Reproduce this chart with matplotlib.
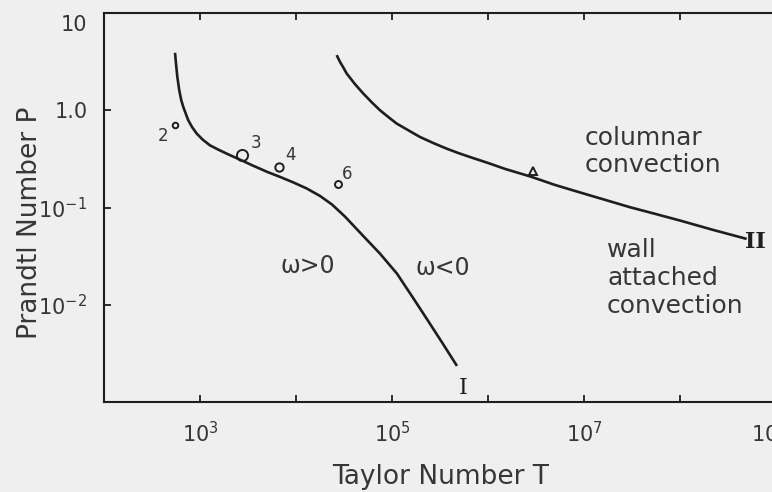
import numpy as np
import matplotlib
matplotlib.use("Agg")
import matplotlib.pyplot as plt
from matplotlib.transforms import ScaledTranslation

# stability boundaries, given as log10 values
logT_I = [2.740, 2.750, 2.764, 2.784, 2.805, 2.826, 2.854, 2.878, 2.917, 2.966,
          3.028, 3.104, 3.191, 3.278, 3.365, 3.451, 3.539, 3.625, 3.695, 3.833,
          3.972, 4.111, 4.250, 4.375, 4.510, 4.698, 4.875, 5.052, 5.219, 5.396,
          5.531, 5.677]
logP_I = [0.591, 0.481, 0.343, 0.206, 0.103, 0.034, -0.041, -0.103, -0.172, -0.240,
          -0.302, -0.361, -0.405, -0.446, -0.485, -0.523, -0.564, -0.601, -0.632, -0.685,
          -0.742, -0.804, -0.881, -0.969, -1.093, -1.290, -1.474, -1.680, -1.928, -2.196,
          -2.402, -2.629]

logT_II = [4.424, 4.458, 4.493, 4.528, 4.615, 4.701, 4.789, 4.875, 4.961, 5.049,
           5.170, 5.292, 5.430, 5.570, 5.691, 5.813, 5.917, 6.021, 6.177, 6.438,
           6.698, 6.958, 7.219, 7.479, 7.740, 8.000, 8.344, 8.695]
logP_II = [0.567, 0.498, 0.440, 0.378, 0.268, 0.172, 0.082, 0.000, -0.069, -0.137,
           -0.206, -0.275, -0.337, -0.395, -0.440, -0.481, -0.515, -0.549, -0.603, -0.680,
           -0.768, -0.845, -0.921, -0.997, -1.065, -1.134, -1.230, -1.323]

# experiments (circles) and the single triangle point
run_labels = ["2", "3", "4", "6"]
run_logT = [2.740, 3.4375, 3.823, 4.4375]
run_logP = [-0.155, -0.464, -0.588, -0.763]
run_size = [4, 8, 6, 5]
tri_logT = [6.469]
tri_logP = [-0.629]

T_I, P_I = 10 ** np.array(logT_I), 10 ** np.array(logP_I)
T_II, P_II = 10 ** np.array(logT_II), 10 ** np.array(logP_II)

ink = "#1e1e1e"
txt = "#363636"
bg = "#efefef"

plt.rcParams["font.family"] = ["DejaVu Sans"]

fig = plt.figure(figsize=(7.72, 4.92), dpi=100, facecolor=bg)
ax = fig.add_axes([0.1347, 0.1829, 0.9326, 0.7907], facecolor=bg)
ax.set_xscale("log")
ax.set_yscale("log")
ax.set_xlim(1e2, 10 ** 9.5)
ax.set_ylim(1e-3, 1e1)

ax.plot(T_I, P_I, color=ink, lw=1.9, solid_capstyle="butt", solid_joinstyle="round")
ax.plot(T_II, P_II, color=ink, lw=1.9, solid_capstyle="butt", solid_joinstyle="round")

for lab, lt, lp, s in zip(run_labels, run_logT, run_logP, run_size):
    ax.plot(10 ** lt, 10 ** lp, "o", ms=s, mfc="none", mec=ink, mew=1.4)
off = {"2": (-12, -11), "3": (14, 12), "4": (12, 12), "6": (9, 10)}
for lab, lt, lp in zip(run_labels, run_logT, run_logP):
    ax.annotate(lab, (10 ** lt, 10 ** lp), xytext=off[lab], textcoords="offset pixels",
                ha="center", va="center", fontsize=12, color=txt)
ax.plot(10 ** np.array(tri_logT), 10 ** np.array(tri_logP), "^", ms=6,
        mfc="none", mec=ink, mew=1.4)

ax.text(10 ** 7.01, 10 ** -0.423, "columnar\nconvection", fontsize=18, color=txt,
        ha="left", va="center", linespacing=1.15)
ax.text(10 ** 7.24, 10 ** -1.722, "wall\nattached\nconvection", fontsize=18, color=txt,
        ha="left", va="center", linespacing=1.2)
ax.text(10 ** 4.125, 10 ** -1.598, "ω>0", fontsize=17, color=txt, ha="center", va="center")
ax.text(10 ** 5.531, 10 ** -1.619, "ω<0", fontsize=17, color=txt, ha="center", va="center")
ax.text(10 ** 5.74, 10 ** -2.856, "I", fontsize=16, color=ink, ha="center", va="center",
        family="DejaVu Serif")
ax.text(10 ** 8.79, 10 ** -1.351, "II", fontsize=16, color=ink, ha="center", va="center",
        family="DejaVu Serif", fontweight="bold")

# axes frame: left, bottom and top only
for side in ["left", "bottom", "top"]:
    ax.spines[side].set_linewidth(1.5)
    ax.spines[side].set_color(ink)
ax.spines["right"].set_visible(False)

xt = [10.0 ** k for k in range(2, 10)]
ax.set_xticks(xt)
ax.set_xticklabels(["", "$10^3$", "", "$10^5$", "", "$10^7$", "", "$10^9$"])
ax.xaxis.set_minor_locator(matplotlib.ticker.NullLocator())
ax.set_yticks([1e-2, 1e-1, 1e0, 1e1])
ax.set_yticklabels(["$10^{-2}$", "$10^{-1}$", "1.0", "10"])
ax.yaxis.set_minor_locator(matplotlib.ticker.NullLocator())
ax.tick_params(axis="x", which="major", direction="in", length=5, width=1.3,
               top=True, bottom=True, labelsize=15, labelcolor=txt, color=ink, pad=14)
ax.tick_params(axis="y", which="major", direction="in", length=5, width=1.3,
               right=False, labelsize=15, labelcolor=txt, color=ink, pad=12)

# the "10" at the top sits a little below its tick
top_lbl = ax.get_yticklabels()[-1]
top_lbl.set_transform(top_lbl.get_transform() + ScaledTranslation(0, -10 / 100, fig.dpi_scale_trans))
# 10^9 label runs off the right edge; pull it in a little
r_lbl = ax.get_xticklabels()[-1]
r_lbl.set_transform(r_lbl.get_transform() + ScaledTranslation(-6 / 100, 0, fig.dpi_scale_trans))

ax.set_xlabel("Taylor Number T", fontsize=19, color=txt)
ax.xaxis.set_label_coords(0.467, -0.16)
ax.set_ylabel("Prandtl Number P", fontsize=19, color=txt)
ax.yaxis.set_label_coords(-0.085, 0.46)

fig.savefig("out.png", dpi=100, facecolor=bg)
